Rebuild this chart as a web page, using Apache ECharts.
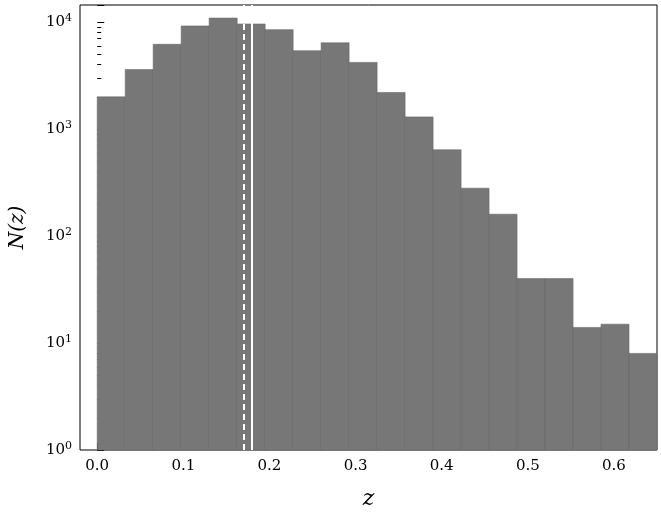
<!DOCTYPE html>
<html><head><meta charset="utf-8">
<script src="https://cdn.jsdelivr.net/npm/echarts@6/dist/echarts.min.js"></script>
<style>html,body{margin:0;padding:0;background:#fff}#c{width:661px;height:517px}</style>
</head><body><div id="c"></div>
<script>
const binEdges = [0,0.0325,0.065,0.0975,0.13,0.1625,0.195,0.2275,0.26,0.2925,0.325,0.3575,0.39,0.4225,0.455,0.4875,0.52,0.5525,0.585,0.6175,0.65];
const counts = [2000,3600,6200,9200,10900,9600,8500,5400,6400,4200,2200,1300,640,280,160,40,40,14,15,8];
const xTicks = [0,0.1,0.2,0.3,0.4,0.5,0.6];
const dashedLineX = 0.171;
const solidLineX = 0.1835;
const bars = counts.map((c,i)=>[binEdges[i],binEdges[i+1],c]);
const font = 'DejaVu Serif';
const chart = echarts.init(document.getElementById('c'));
chart.setOption({
  animation:false,
  grid:{left:78,right:4,top:5,bottom:67,show:true,borderColor:'#000',borderWidth:1},
  xAxis:{type:'value',min:-0.02,max:0.65,
    axisLine:{show:false},splitLine:{show:false},
    axisTick:{inside:true,length:7,customValues:xTicks,lineStyle:{color:'#000'}},
    minorTick:{show:false},
    axisLabel:{customValues:xTicks,formatter:v=>v.toFixed(1),fontFamily:font,fontSize:15,color:'#000',margin:9},
    name:'z',nameLocation:'middle',nameGap:38,nameTextStyle:{fontFamily:font,fontStyle:'italic',fontSize:22,color:'#000'}},
  yAxis:{type:'log',logBase:10,min:1,max:14450,
    axisLine:{show:false},splitLine:{show:false},
    axisTick:{inside:true,length:7,lineStyle:{color:'#000'}},
    minorTick:{show:true,splitNumber:9,length:4,lineStyle:{color:'#000'}},
    axisLabel:{fontFamily:font,fontSize:15,color:'#000',
      formatter:v=>{const e=Math.round(Math.log10(v));return Math.abs(Math.log10(v)-e)<1e-6?'10{s|'+e+'}':'';},
      rich:{s:{fontSize:11,verticalAlign:'top',padding:[0,0,8,0],fontFamily:font}}},
    name:'N(z)',nameLocation:'middle',nameGap:52,nameRotate:90,nameTextStyle:{fontFamily:font,fontStyle:'italic',fontSize:20,color:'#000'}},
  series:[{type:'custom',data:bars,renderItem:(p,api)=>{
      const a=api.coord([api.value(0),api.value(2)]);
      const b=api.coord([api.value(1),1]);
      return {type:'rect',shape:{x:a[0],y:a[1],width:b[0]-a[0],height:b[1]-a[1]},
        style:{fill:'#777777',stroke:'#6a6a6a',lineWidth:0.6}};
    },encode:{x:[0,1],y:2},z:2},
   {type:'line',data:[],markLine:{symbol:'none',silent:true,label:{show:false},
      data:[{xAxis:dashedLineX,lineStyle:{color:'#fff',type:[6,4],width:2}},
            {xAxis:solidLineX,lineStyle:{color:'#fff',type:'solid',width:2}}]},z:5}]
});
</script></body></html>
